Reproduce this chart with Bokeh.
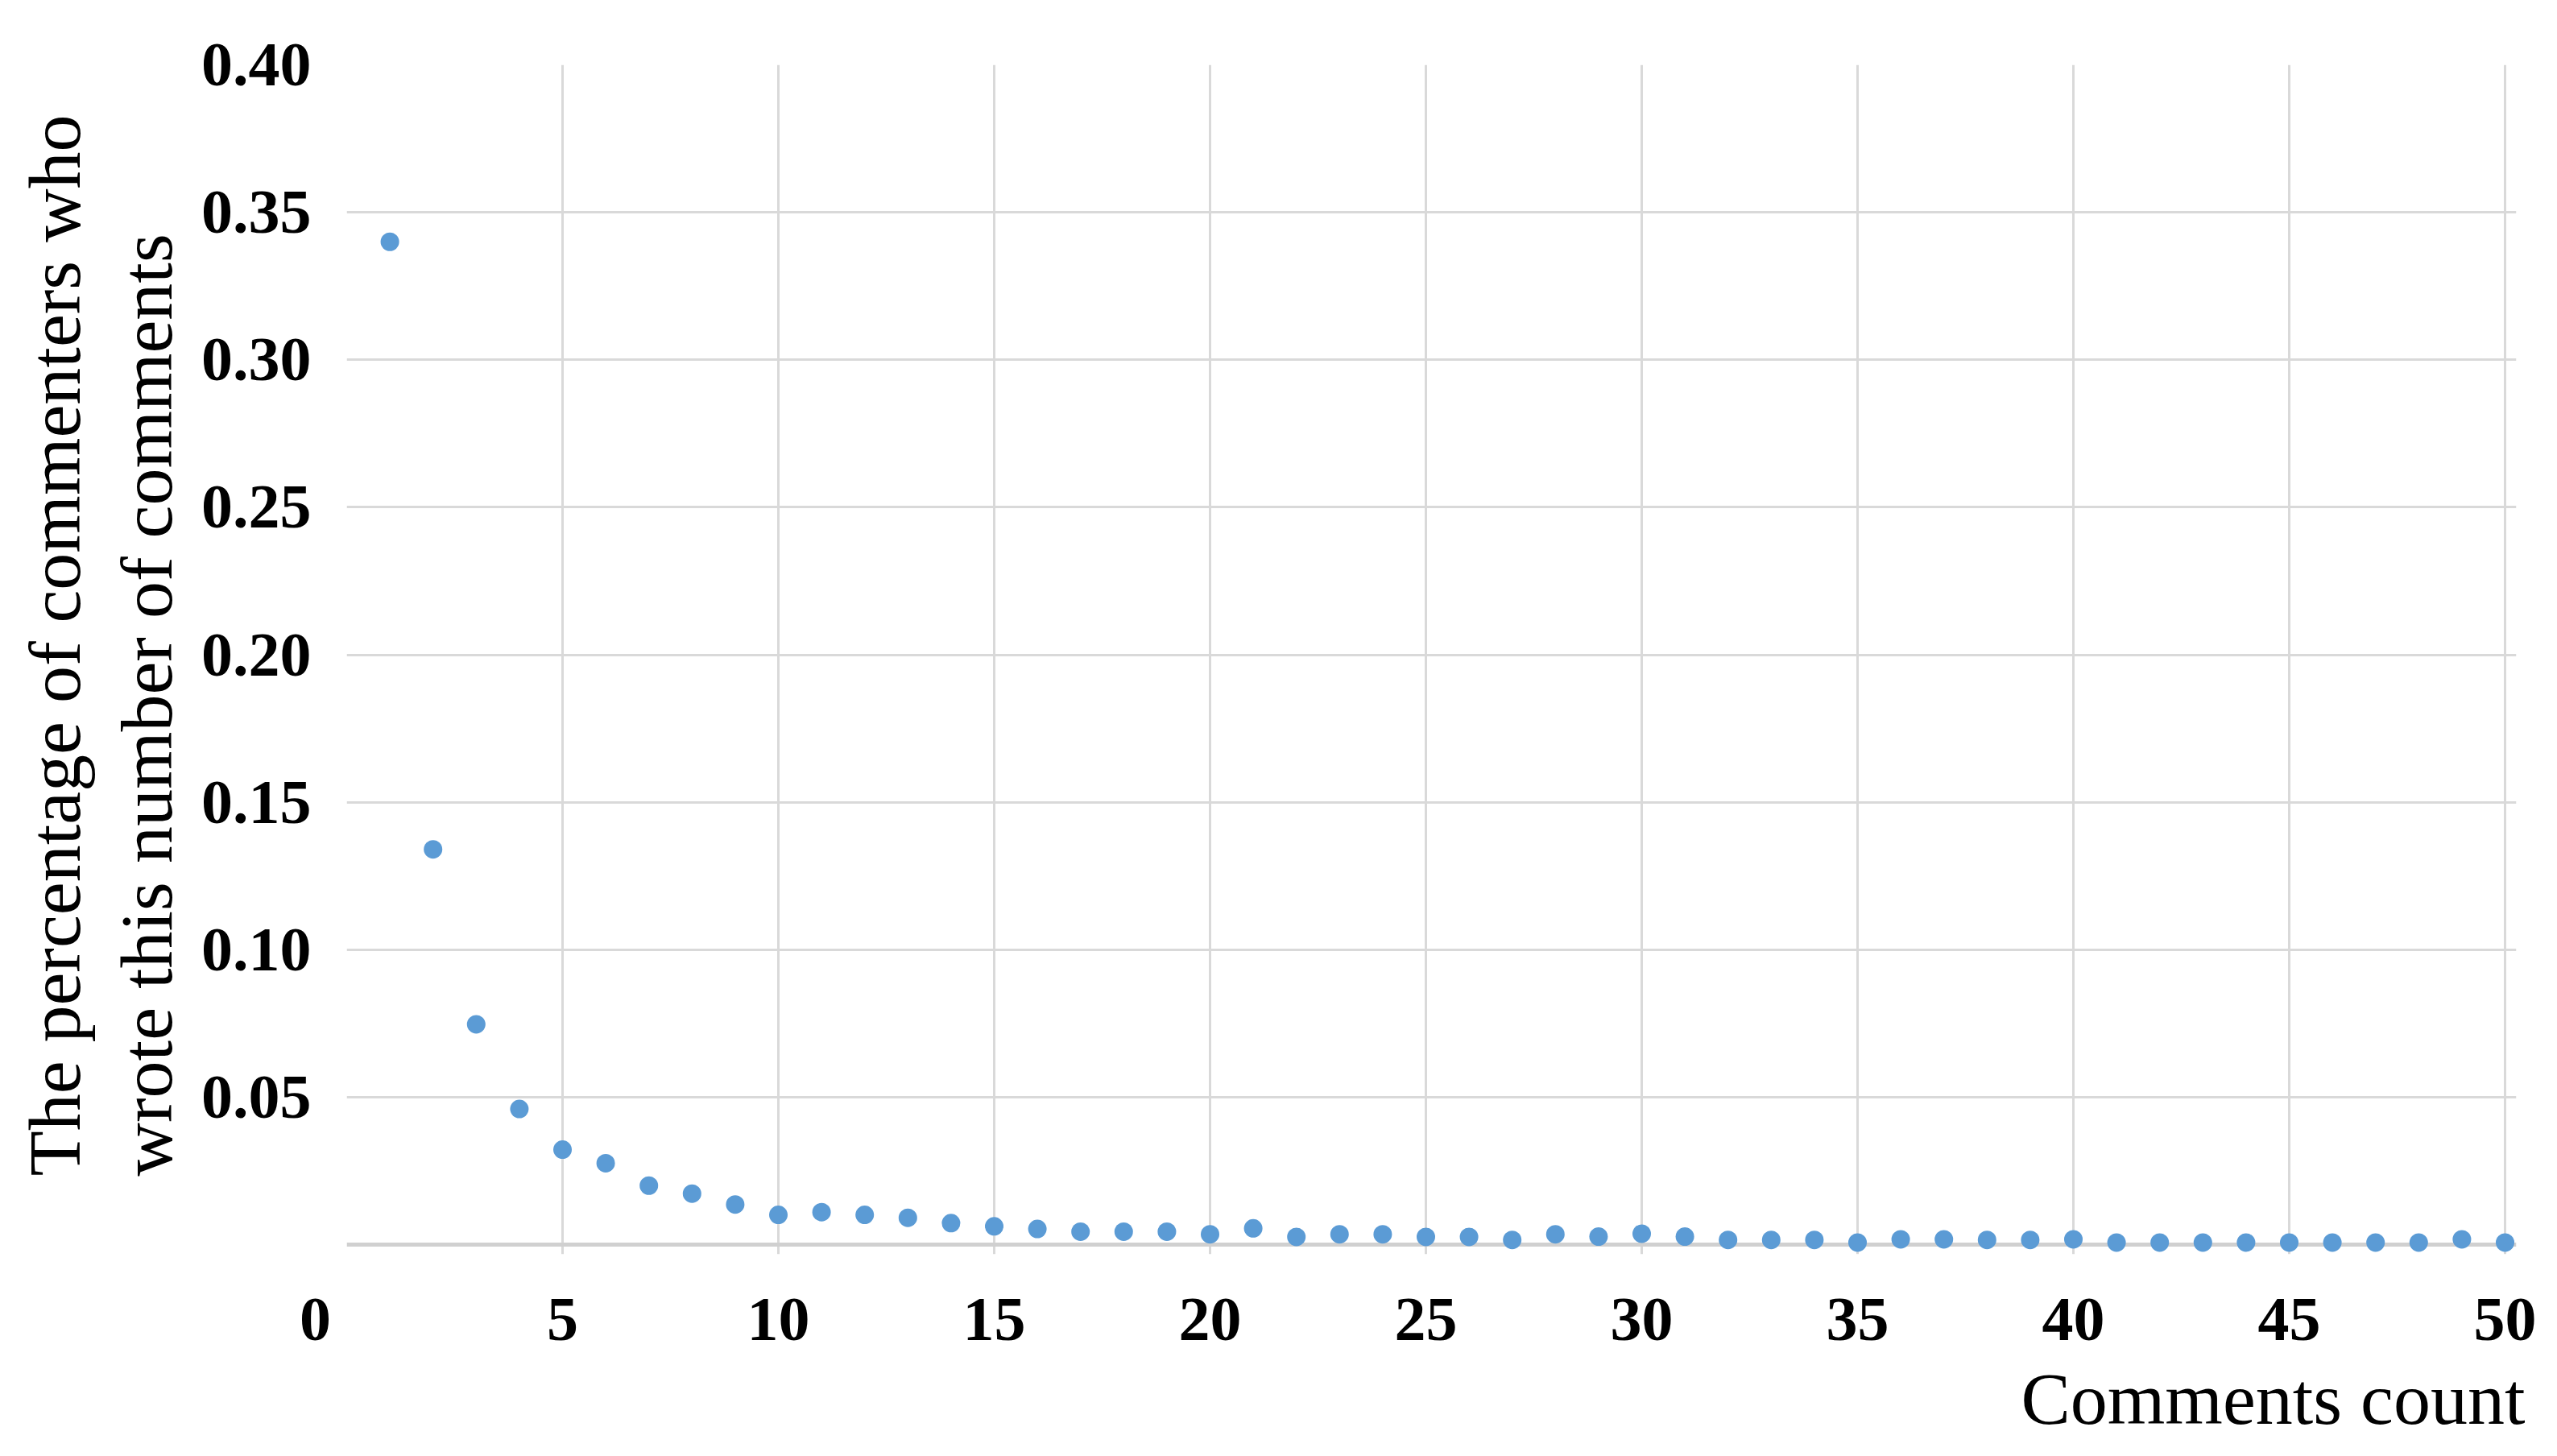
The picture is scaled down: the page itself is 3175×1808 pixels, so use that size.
from bokeh.plotting import figure
from bokeh.models import Range1d, FixedTicker, Grid, Title
from bokeh.embed import file_html
from bokeh.resources import INLINE

# ---- data ----
comments_count = list(range(1, 51))
share = [
    0.340, 0.134, 0.0747, 0.0460, 0.0322, 0.0276, 0.0200, 0.0173, 0.0136, 0.0101,
    0.0110, 0.0101, 0.0091, 0.0073, 0.0062, 0.0053, 0.0044, 0.0044, 0.0044, 0.0035,
    0.0055, 0.0026, 0.0035, 0.0035, 0.0026, 0.0026, 0.0016, 0.0035, 0.0027, 0.0037,
    0.0027, 0.0016, 0.0016, 0.0016, 0.0007, 0.0018, 0.0018, 0.0016, 0.0016, 0.0018,
    0.0007, 0.0007, 0.0007, 0.0007, 0.0007, 0.0007, 0.0007, 0.0007, 0.0018, 0.0007,
]
x_ticks = [0, 5, 10, 15, 20, 25, 30, 35, 40, 45, 50]
x_tick_labels = ["0", "5", "10", "15", "20", "25", "30", "35", "40", "45", "50"]
y_ticks = [0.05, 0.10, 0.15, 0.20, 0.25, 0.30, 0.35, 0.40]
y_tick_labels = ["0.05", "0.10", "0.15", "0.20", "0.25", "0.30", "0.35", "0.40"]
x_title = "Comments count"
y_title_lines = ["The percentage of commenters who", "wrote this number of comments"]

FONT = "Liberation Serif"
GRID = "#d9d9d9"
X_MIN, X_MAX = 0, 50
Y_MIN, Y_MAX = 0, 0.40

# frame slightly larger than the data box so edge markers are not cut
PX_X = 2680 / (X_MAX - X_MIN)
PX_Y = 1465 / (Y_MAX - Y_MIN)
PAD_R, PAD_B = 14, 12

p = figure(
    output_backend="svg", toolbar_location=None,
    frame_width=2680 + PAD_R, frame_height=1465 + PAD_B,
    min_border_left=430, min_border_right=35, min_border_top=80, min_border_bottom=235,
    x_range=Range1d(X_MIN, X_MAX + PAD_R / PX_X),
    y_range=Range1d(Y_MIN - PAD_B / PX_Y, Y_MAX),
    background_fill_color="white", border_fill_color="white",
)
p.outline_line_color = None

# grids (bounded to the data box)
p.xgrid.ticker = FixedTicker(ticks=x_ticks[1:])
p.ygrid.ticker = FixedTicker(ticks=y_ticks)
p.xgrid.bounds = (Y_MIN, Y_MAX)
p.ygrid.bounds = (X_MIN, X_MAX)
for g in (p.xgrid, p.ygrid):
    g.grid_line_color = GRID
    g.grid_line_width = 3
# axis lines drawn as bounded grid lines at the origin
p.add_layout(Grid(dimension=1, ticker=FixedTicker(ticks=[Y_MIN]), bounds=(X_MIN, X_MAX + 0.1),
                  grid_line_color="#d0d0d0", grid_line_width=5))
p.add_layout(Grid(dimension=0, ticker=FixedTicker(ticks=[X_MIN]), bounds=(Y_MIN, Y_MAX),
                  grid_line_color="#d4d4d4", grid_line_width=3))

# axes (labels only)
p.xaxis.ticker = FixedTicker(ticks=x_ticks)
p.yaxis.ticker = FixedTicker(ticks=y_ticks)
xl = {t: l for t, l in zip(x_ticks, x_tick_labels)}
xl[0] = x_tick_labels[0] + "\u00a0\u00a0\u00a0\u00a0"
p.xaxis.major_label_overrides = xl
p.yaxis.major_label_overrides = {t: l for t, l in zip(y_ticks, y_tick_labels)}
for ax in (p.xaxis, p.yaxis):
    ax.axis_line_color = None
    ax.major_tick_line_color = None
    ax.minor_tick_line_color = None
    ax.major_tick_out = 0
    ax.major_tick_in = 0
    ax.major_label_text_font = FONT
    ax.major_label_text_font_style = "bold"
    ax.major_label_text_font_size = "78px"
    ax.major_label_text_color = "black"
p.xaxis.major_label_standoff = 36
p.yaxis.major_label_standoff = 44

# points
p.scatter(comments_count, share, size=23, color="#5B9BD5", line_color=None)

# x-axis title (right aligned, below axis)
p.add_layout(Title(text=x_title, align="right", offset=-11, standoff=0,
                   text_font=FONT, text_font_size="92px", text_font_style="normal",
                   text_color="black"), "below")

# y-axis title lines (nearest line first)
p.add_layout(Title(text=y_title_lines[1], align="left", offset=97, standoff=28,
                   text_font=FONT, text_font_size="92px", text_font_style="normal",
                   text_color="black"), "left")
p.add_layout(Title(text=y_title_lines[0], align="left", offset=97, standoff=-8,
                   text_font=FONT, text_font_size="92px", text_font_style="normal",
                   text_color="black"), "left")

open("out.html", "w").write(file_html(p, INLINE))
